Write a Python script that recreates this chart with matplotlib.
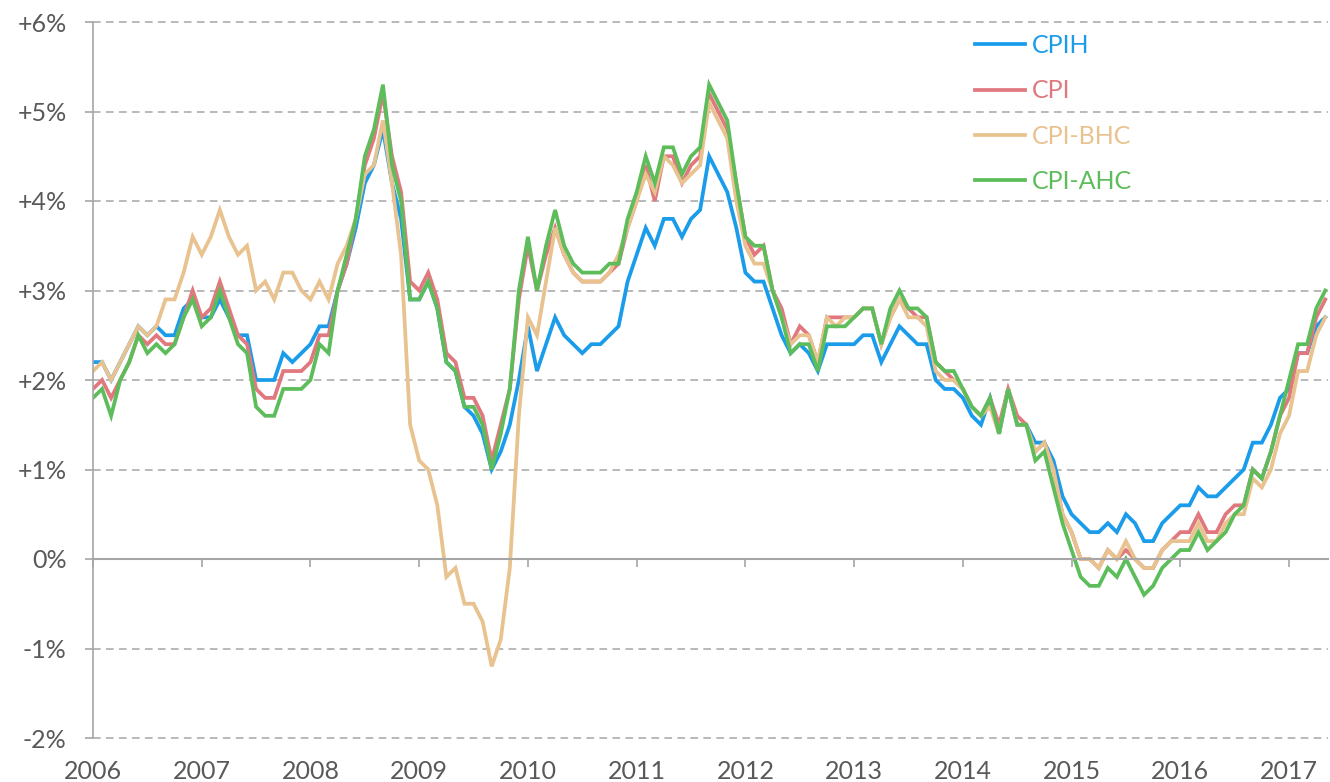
import numpy as np
import matplotlib.pyplot as plt

plt.rcParams['font.family'] = ['Lato', 'DejaVu Sans']

# monthly 12-month inflation rates, Jan 2006 - May 2017
start_year = 2006

cpih = [2.2, 2.2, 2.0, 2.2, 2.4, 2.6, 2.5, 2.6, 2.5, 2.5, 2.8, 2.9,
        2.7, 2.7, 2.9, 2.7, 2.5, 2.5, 2.0, 2.0, 2.0, 2.3, 2.2, 2.3,
        2.4, 2.6, 2.6, 3.0, 3.3, 3.7, 4.2, 4.4, 4.8, 4.2, 3.8, 2.9,
        2.9, 3.1, 2.8, 2.2, 2.1, 1.7, 1.6, 1.4, 1.0, 1.2, 1.5, 2.0,
        2.6, 2.1, 2.4, 2.7, 2.5, 2.4, 2.3, 2.4, 2.4, 2.5, 2.6, 3.1,
        3.4, 3.7, 3.5, 3.8, 3.8, 3.6, 3.8, 3.9, 4.5, 4.3, 4.1, 3.7,
        3.2, 3.1, 3.1, 2.8, 2.5, 2.3, 2.4, 2.3, 2.1, 2.4, 2.4, 2.4,
        2.4, 2.5, 2.5, 2.2, 2.4, 2.6, 2.5, 2.4, 2.4, 2.0, 1.9, 1.9,
        1.8, 1.6, 1.5, 1.8, 1.4, 1.9, 1.5, 1.5, 1.3, 1.3, 1.1, 0.7,
        0.5, 0.4, 0.3, 0.3, 0.4, 0.3, 0.5, 0.4, 0.2, 0.2, 0.4, 0.5,
        0.6, 0.6, 0.8, 0.7, 0.7, 0.8, 0.9, 1.0, 1.3, 1.3, 1.5, 1.8,
        1.9, 2.3, 2.3, 2.6, 2.7]

cpi = [1.9, 2.0, 1.8, 2.0, 2.2, 2.5, 2.4, 2.5, 2.4, 2.4, 2.7, 3.0,
       2.7, 2.8, 3.1, 2.8, 2.5, 2.4, 1.9, 1.8, 1.8, 2.1, 2.1, 2.1,
       2.2, 2.5, 2.5, 3.0, 3.3, 3.8, 4.4, 4.7, 5.2, 4.5, 4.1, 3.1,
       3.0, 3.2, 2.9, 2.3, 2.2, 1.8, 1.8, 1.6, 1.1, 1.5, 1.9, 2.9,
       3.5, 3.0, 3.4, 3.7, 3.4, 3.2, 3.1, 3.1, 3.1, 3.2, 3.3, 3.7,
       4.0, 4.4, 4.0, 4.5, 4.5, 4.2, 4.4, 4.5, 5.2, 5.0, 4.8, 4.2,
       3.6, 3.4, 3.5, 3.0, 2.8, 2.4, 2.6, 2.5, 2.2, 2.7, 2.7, 2.7,
       2.7, 2.8, 2.8, 2.4, 2.7, 2.9, 2.8, 2.7, 2.7, 2.2, 2.1, 2.0,
       1.9, 1.7, 1.6, 1.8, 1.5, 1.9, 1.6, 1.5, 1.2, 1.3, 1.0, 0.5,
       0.3, 0.0, 0.0, -0.1, 0.1, 0.0, 0.1, 0.0, -0.1, -0.1, 0.1, 0.2,
       0.3, 0.3, 0.5, 0.3, 0.3, 0.5, 0.6, 0.6, 1.0, 0.9, 1.2, 1.6,
       1.8, 2.3, 2.3, 2.7, 2.9]

cpi_bhc = [2.1, 2.2, 2.0, 2.2, 2.4, 2.6, 2.5, 2.6, 2.9, 2.9, 3.2, 3.6,
           3.4, 3.6, 3.9, 3.6, 3.4, 3.5, 3.0, 3.1, 2.9, 3.2, 3.2, 3.0,
           2.9, 3.1, 2.9, 3.3, 3.5, 3.8, 4.3, 4.4, 4.9, 4.2, 3.4, 1.5,
           1.1, 1.0, 0.6, -0.2, -0.1, -0.5, -0.5, -0.7, -1.2, -0.9, -0.1, 1.6,
           2.7, 2.5, 3.1, 3.7, 3.4, 3.2, 3.1, 3.1, 3.1, 3.2, 3.4, 3.7,
           4.0, 4.3, 4.1, 4.5, 4.4, 4.2, 4.3, 4.4, 5.1, 4.9, 4.7, 4.0,
           3.5, 3.3, 3.3, 3.0, 2.7, 2.4, 2.5, 2.5, 2.2, 2.7, 2.6, 2.7,
           2.7, 2.8, 2.8, 2.4, 2.7, 2.9, 2.7, 2.7, 2.6, 2.1, 2.0, 2.0,
           1.9, 1.7, 1.6, 1.7, 1.4, 1.9, 1.5, 1.5, 1.2, 1.3, 1.0, 0.5,
           0.3, 0.0, 0.0, -0.1, 0.1, 0.0, 0.2, 0.0, -0.1, -0.1, 0.1, 0.2,
           0.2, 0.2, 0.4, 0.2, 0.2, 0.4, 0.5, 0.5, 0.9, 0.8, 1.0, 1.4,
           1.6, 2.1, 2.1, 2.5, 2.7]

cpi_ahc = [1.8, 1.9, 1.6, 2.0, 2.2, 2.5, 2.3, 2.4, 2.3, 2.4, 2.7, 2.9,
           2.6, 2.7, 3.0, 2.7, 2.4, 2.3, 1.7, 1.6, 1.6, 1.9, 1.9, 1.9,
           2.0, 2.4, 2.3, 3.0, 3.4, 3.8, 4.5, 4.8, 5.3, 4.4, 4.0, 2.9,
           2.9, 3.1, 2.8, 2.2, 2.1, 1.7, 1.7, 1.5, 1.0, 1.4, 1.9, 3.0,
           3.6, 3.0, 3.5, 3.9, 3.5, 3.3, 3.2, 3.2, 3.2, 3.3, 3.3, 3.8,
           4.1, 4.5, 4.2, 4.6, 4.6, 4.3, 4.5, 4.6, 5.3, 5.1, 4.9, 4.2,
           3.6, 3.5, 3.5, 3.0, 2.7, 2.3, 2.4, 2.4, 2.1, 2.6, 2.6, 2.6,
           2.7, 2.8, 2.8, 2.4, 2.8, 3.0, 2.8, 2.8, 2.7, 2.2, 2.1, 2.1,
           1.9, 1.7, 1.6, 1.8, 1.4, 1.9, 1.5, 1.5, 1.1, 1.2, 0.8, 0.4,
           0.1, -0.2, -0.3, -0.3, -0.1, -0.2, 0.0, -0.2, -0.4, -0.3, -0.1, 0.0,
           0.1, 0.1, 0.3, 0.1, 0.2, 0.3, 0.5, 0.6, 1.0, 0.9, 1.2, 1.6,
           2.0, 2.4, 2.4, 2.8, 3.0]

labels = ['CPIH', 'CPI', 'CPI-BHC', 'CPI-AHC']
colors = ['#1A9CEA', '#E0787E', '#E8C28F', '#5DBD5A']
year_ticks = list(range(2006, 2018))
y_ticks = [-2, -1, 0, 1, 2, 3, 4, 5, 6]
y_tick_labels = ['-2%', '-1%', '0%', '+1%', '+2%', '+3%', '+4%', '+5%', '+6%']

grey = '#A6A6A6'
text_grey = '#595959'

x = start_year + np.arange(len(cpi)) / 12

fig = plt.figure(figsize=(13.3, 7.82), dpi=100)
ax = fig.add_axes([93 / 1330, 44 / 782, 1235 / 1330, 716 / 782])

# dashed gridlines, solid zero line
for v in y_ticks:
    if v != 0:
        ax.axhline(v, color=grey, lw=1.1, ls=(0, (5, 3.5)), zorder=0, clip_on=False)

for series, lab, col in zip([cpih, cpi, cpi_bhc, cpi_ahc], labels, colors):
    ax.plot(x, series, color=col, lw=2.7, label=lab, solid_joinstyle='miter')

ax.set_xlim(start_year, start_year + 136.3 / 12)
ax.set_ylim(-2, 6)

for s in ['top', 'right']:
    ax.spines[s].set_visible(False)
ax.spines['left'].set_color(grey)
ax.spines['left'].set_linewidth(1.2)
ax.spines['bottom'].set_position(('data', 0))
ax.spines['bottom'].set_color(grey)
ax.spines['bottom'].set_linewidth(1.5)

ax.set_xticks(year_ticks)
ax.tick_params(axis='x', direction='out', length=6, width=1.2, color=grey, labelbottom=False)
ax.set_yticks(y_ticks, labels=y_tick_labels)
ax.tick_params(axis='y', direction='out', length=6, width=1.2, color=grey,
               labelsize=18, labelcolor=text_grey, pad=13)

# year labels along the bottom edge
sec = ax.secondary_xaxis('bottom')
sec.set_xticks(year_ticks, labels=[str(y) for y in year_ticks])
sec.tick_params(length=0, labelsize=18, labelcolor=text_grey, pad=16)
sec.spines['bottom'].set_visible(False)

ax.legend(frameon=False, loc='upper left', bbox_to_anchor=(0.714, 0.983),
          borderaxespad=0, borderpad=0, fontsize=18, handlelength=2.0,
          handletextpad=0.3, labelspacing=0.89, labelcolor='linecolor')

fig.savefig('out.png', dpi=100)
